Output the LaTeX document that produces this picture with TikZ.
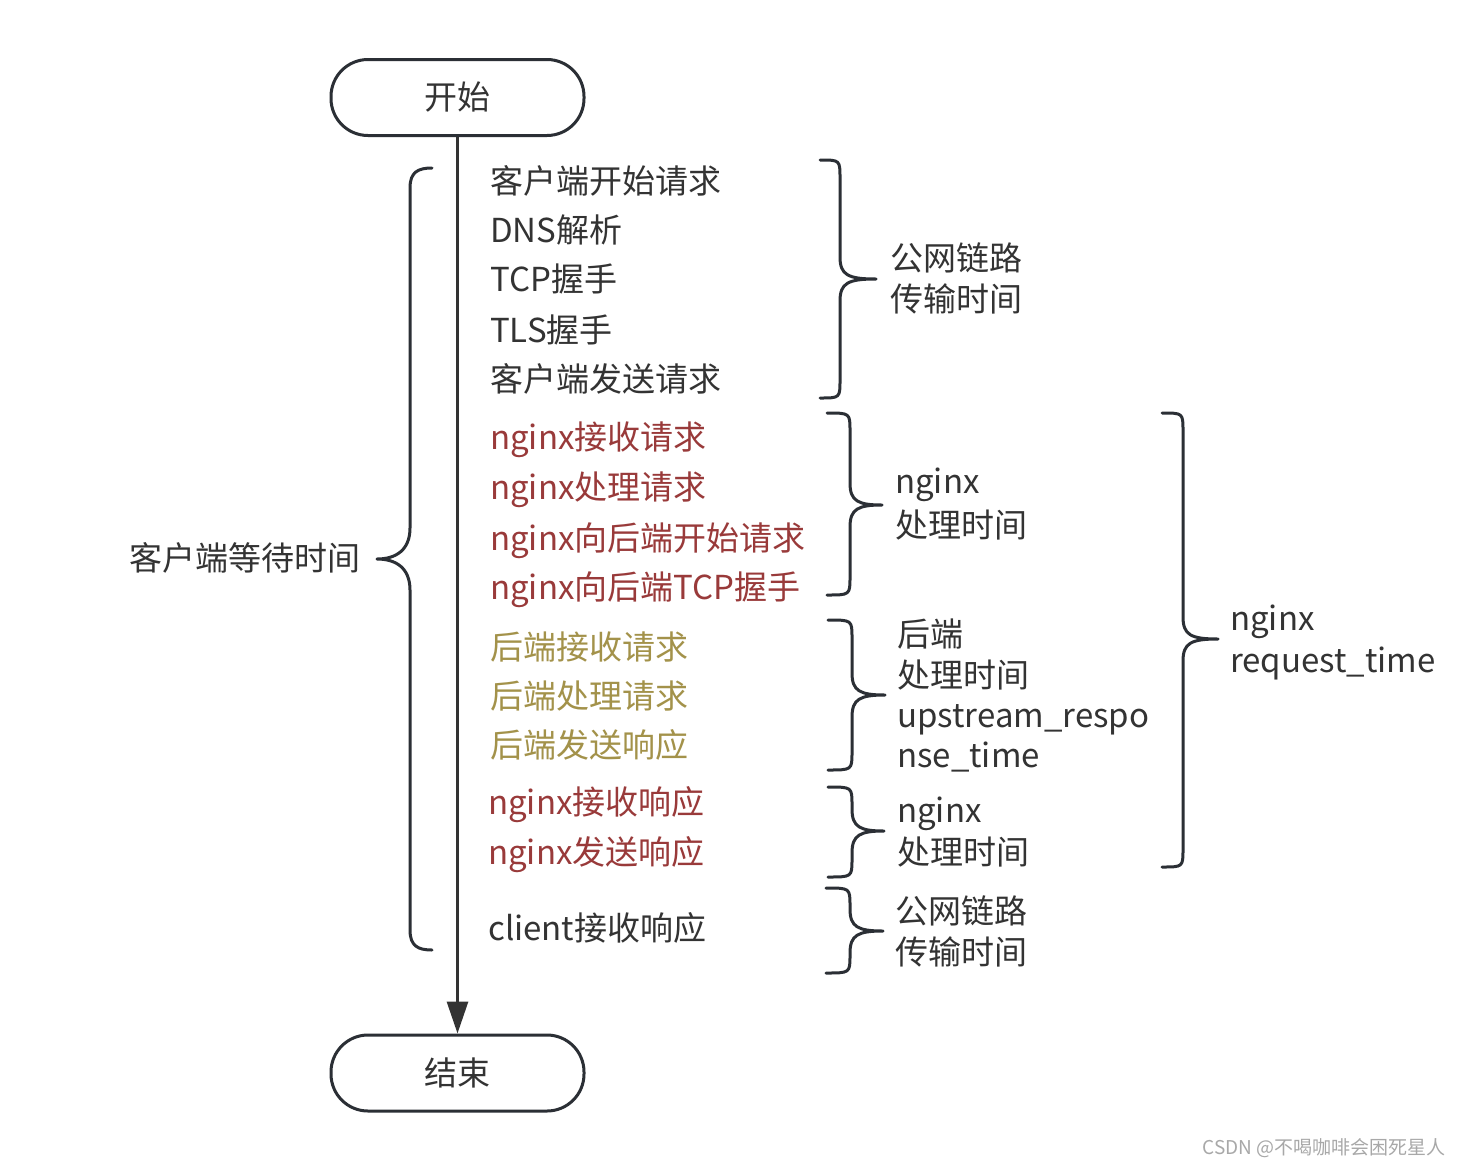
\documentclass[tikz,border=0pt]{standalone}
\usepackage{fontspec}
\setmainfont{Noto Sans CJK SC}
\usetikzlibrary{arrows.meta}
\definecolor{ink}{HTML}{2B2F35}
\definecolor{txt}{HTML}{333333}
\definecolor{nred}{HTML}{993A3A}
\definecolor{olive}{HTML}{A3924A}
\definecolor{wm}{HTML}{A8A8A8}
\newcommand\rbr[6]{%
  \draw[br] (#1,#4) .. controls ({#2},#4) .. ({#2},{#4+18}) -- ({#2},{#5-22})
    .. controls ({#2},{#5-4}) and ({#2+8},#5) .. (#3,#5)
    .. controls ({#2+8},#5) and ({#2},{#5+4}) .. ({#2},{#5+22})
    -- ({#2},{#6-18}) .. controls ({#2},#6) .. (#1,#6);}
\begin{document}
\begin{tikzpicture}[x=1pt,y=-1pt,
  item/.style={anchor=west, inner sep=0pt, font=\fontsize{33}{40}\selectfont,
    text height=25pt, text depth=0pt, text=txt},
  red/.style={item, text=nred},
  oli/.style={item, text=olive},
  term/.style={draw=ink, line width=3pt, rounded corners=37pt, fill=white,
    minimum width=253pt, minimum height=76pt, inner sep=0pt,
    font=\fontsize{33}{40}\selectfont, text=txt},
  br/.style={draw=ink, line width=3pt, line cap=round, line join=round},
]
\useasboundingbox (0,0) rectangle (1462,1168);
\fill[white] (0,0) rectangle (1462,1168);

\node[term] (start) at (457.5,97.5) {开始};
\node[term] (stop) at (457.5,1073) {结束};
\draw[draw=txt, line width=3pt, -{Triangle[length=32pt,width=21pt]}] (start) -- (stop);

% left brace
\draw[br] (432,168) .. controls (418,168) and (410,172) .. (410,188) -- (410,528)
  .. controls (410,550) and (396,559) .. (377,559)
  .. controls (396,559) and (410,568) .. (410,590)
  -- (410,930) .. controls (410,946) and (418,950) .. (432,950);
\node[item, anchor=east] (wait) at (361,558) {客户端等待时间};

% items
\node[item] (i1) at (490,180.5) {客户端开始请求};
\node[item] (i2) at (490,230) {DNS解析};
\node[item] (i3) at (490,278.5) {TCP握手};
\node[item] (i4) at (490,330) {TLS握手};
\node[item] (i5) at (490,378.5) {客户端发送请求};
\node[red] (i6) at (490,437) {nginx接收请求};
\node[red] (i7) at (490,487) {nginx处理请求};
\node[red] (i8) at (490,537.5) {nginx向后端开始请求};
\node[red] (i9) at (490,587) {nginx向后端TCP握手};
\node[oli] (i10) at (490,647) {后端接收请求};
\node[oli] (i11) at (490,695.5) {后端处理请求};
\node[oli] (i12) at (490,745) {后端发送响应};
\node[red] (i13) at (488,802) {nginx接收响应};
\node[red] (i14) at (488,852) {nginx发送响应};
\node[item] (i15) at (488,928) {client接收响应};

% right braces
\rbr{820}{840}{876}{160}{279}{398}
\rbr{827}{850}{882}{413}{505}{595}
\rbr{828}{852}{885}{620}{695}{770}
\rbr{828}{852}{884}{787}{831}{877}
\rbr{826}{850}{883}{888}{931}{973}
\rbr{1162}{1183}{1218}{413}{639}{867}

% labels
\node[item] (l1a) at (890,258) {公网链路};
\node[item] (l1b) at (890,299) {传输时间};
\node[item] (l2a) at (895,481) {nginx};
\node[item] (l2b) at (895,525) {处理时间};
\node[item] (l3a) at (897,633.5) {后端};
\node[item] (l3b) at (897,675) {处理时间};
\node[item] (l3c) at (897,715) {upstream\_respo};
\node[item] (l3d) at (897,755) {nse\_time};
\node[item] (l4a) at (897,810) {nginx};
\node[item] (l4b) at (897,852) {处理时间};
\node[item] (l5a) at (895,911) {公网链路};
\node[item] (l5b) at (895,951.5) {传输时间};
\node[item] (l6a) at (1230,618) {nginx};
\node[item] (l6b) at (1230,660) {request\_time};

\node[anchor=east, inner sep=0pt, font=\fontsize{19}{22}\selectfont, text=wm] (wmk) at (1446,1148) {CSDN @不喝咖啡会困死星人};
\end{tikzpicture}
\end{document}
